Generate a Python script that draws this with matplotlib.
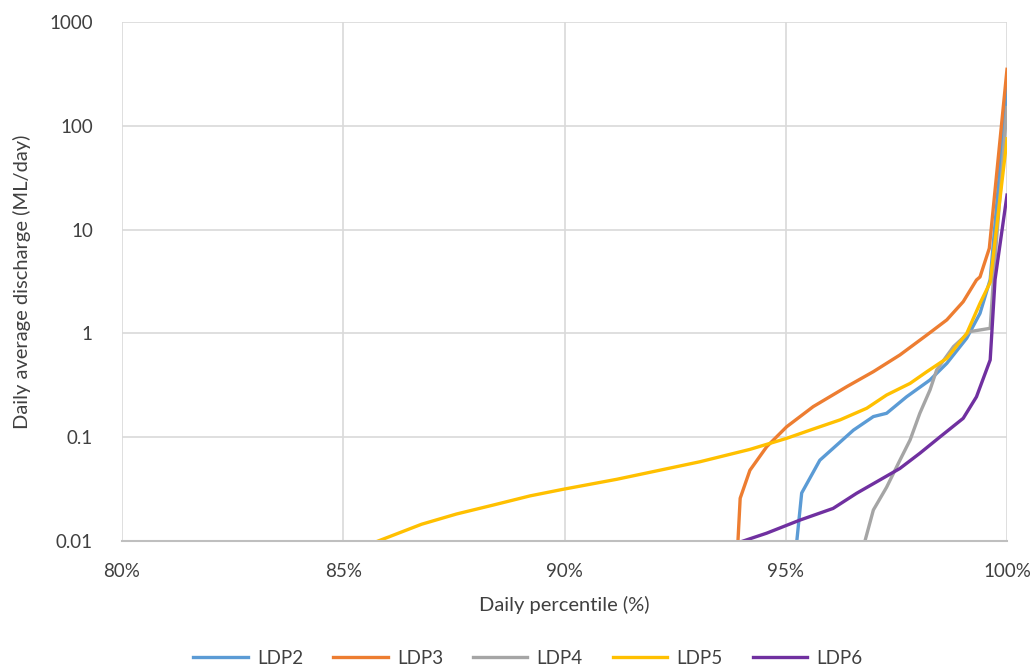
import matplotlib.pyplot as plt
import numpy as np
from matplotlib.ticker import FixedLocator, FixedFormatter

# percentiles (%) and discharge (ML/day)
ldp2_x = [95.25, 95.36, 95.77, 96.53, 96.98, 97.28, 97.73, 98.26, 98.64, 99.09, 99.39, 99.62, 100.0]
ldp2_y = [0.01, 0.029, 0.06, 0.117, 0.158, 0.17, 0.245, 0.356, 0.515, 0.9, 1.56, 3.3, 238]

ldp3_x = [93.92, 93.97, 94.19, 94.57, 95.02, 95.62, 96.38, 96.98, 97.58, 98.19, 98.64, 99.01, 99.31, 99.39, 99.6, 100.0]
ldp3_y = [0.01, 0.0258, 0.048, 0.081, 0.126, 0.197, 0.307, 0.428, 0.62, 0.966, 1.35, 2.02, 3.27, 3.5, 6.6, 350]

ldp4_x = [96.79, 96.98, 97.28, 97.58, 97.81, 98.03, 98.26, 98.41, 98.79, 99.16, 99.62, 99.69, 100.0]
ldp4_y = [0.01, 0.0199, 0.033, 0.06, 0.094, 0.17, 0.285, 0.444, 0.745, 1.04, 1.12, 3.2, 150]

ldp5_x = [85.79, 86.77, 87.56, 88.39, 89.22, 89.97, 91.18, 93.06, 94.19, 95.02, 95.55, 96.23, 96.83,
          97.28, 97.81, 98.19, 98.64, 99.09, 99.39, 99.62, 100.0]
ldp5_y = [0.01, 0.0145, 0.0182, 0.0222, 0.0272, 0.0315, 0.0393, 0.058, 0.0763, 0.0975, 0.117, 0.147, 0.19,
          0.255, 0.33, 0.428, 0.575, 1.0, 1.95, 3.1, 75]

ldp6_x = [94.04, 94.57, 95.32, 96.07, 96.6, 97.13, 97.58, 98.03, 98.49, 99.01, 99.31, 99.62, 99.73, 100.0]
ldp6_y = [0.01, 0.0119, 0.0159, 0.0206, 0.0288, 0.0388, 0.05, 0.07, 0.101, 0.152, 0.245, 0.555, 3.3, 21.5]

names = ['LDP2', 'LDP3', 'LDP4', 'LDP5', 'LDP6']
colors = ['#5B9BD5', '#ED7D31', '#A5A5A5', '#FFC000', '#7030A0']

plt.rcParams['font.family'] = ['Lato', 'DejaVu Sans']
fs = 13.5

fig = plt.figure(figsize=(10.36, 6.66), dpi=100)
ax = fig.add_axes([122/1036, 1-541/666, (1007-122)/1036, (541-22)/666])

series = [(ldp2_x, ldp2_y), (ldp3_x, ldp3_y), (ldp4_x, ldp4_y), (ldp5_x, ldp5_y), (ldp6_x, ldp6_y)]
for (xs, ys), n, c in zip(series, names, colors):
    ax.plot(xs, ys, color=c, lw=2.4, label=n, solid_joinstyle='round')

ax.set_yscale('log')
ax.set_xlim(80, 100)
ax.set_ylim(0.01, 1000)

yt = [0.01, 0.1, 1, 10, 100, 1000]
ax.yaxis.set_major_locator(FixedLocator(yt))
ax.yaxis.set_major_formatter(FixedFormatter(['0.01', '0.1', '1', '10', '100', '1000']))
ax.yaxis.set_minor_locator(FixedLocator([]))
xt = [80, 85, 90, 95, 100]
ax.set_xticks(xt)
ax.set_xticklabels([f'{v}%' for v in xt])

ax.grid(True, color='#d9d9d9', lw=1.2)
ax.set_axisbelow(True)
for s in ['top', 'right', 'left']:
    ax.spines[s].set_visible(False)
ax.spines['bottom'].set_color('#bfbfbf')
ax.spines['bottom'].set_linewidth(1.5)
ax.tick_params(axis='y', length=0, labelsize=fs, colors='#404040', pad=21)
ax.tick_params(axis='x', length=0, labelsize=fs, colors='#404040', pad=16)

ax.set_xlabel('Daily percentile (%)', fontsize=14.5, color='#404040')
ax.set_ylabel('Daily average discharge (ML/day)', fontsize=14.5, color='#404040')
ax.xaxis.set_label_coords(0.5, (541-605)/519, transform=ax.transAxes)
ax.yaxis.set_label_coords((22-122)/885, 0.5, transform=ax.transAxes)
ax.xaxis.label.set_va('center')
ax.yaxis.label.set_va('center')

fig.legend(loc='center', ncol=5, frameon=False, fontsize=fs, handlelength=2.9, handletextpad=0.5,
           columnspacing=1.6, bbox_to_anchor=(528/1036, 1-658/666), labelcolor='#404040')

fig.savefig('out.png', dpi=100)
